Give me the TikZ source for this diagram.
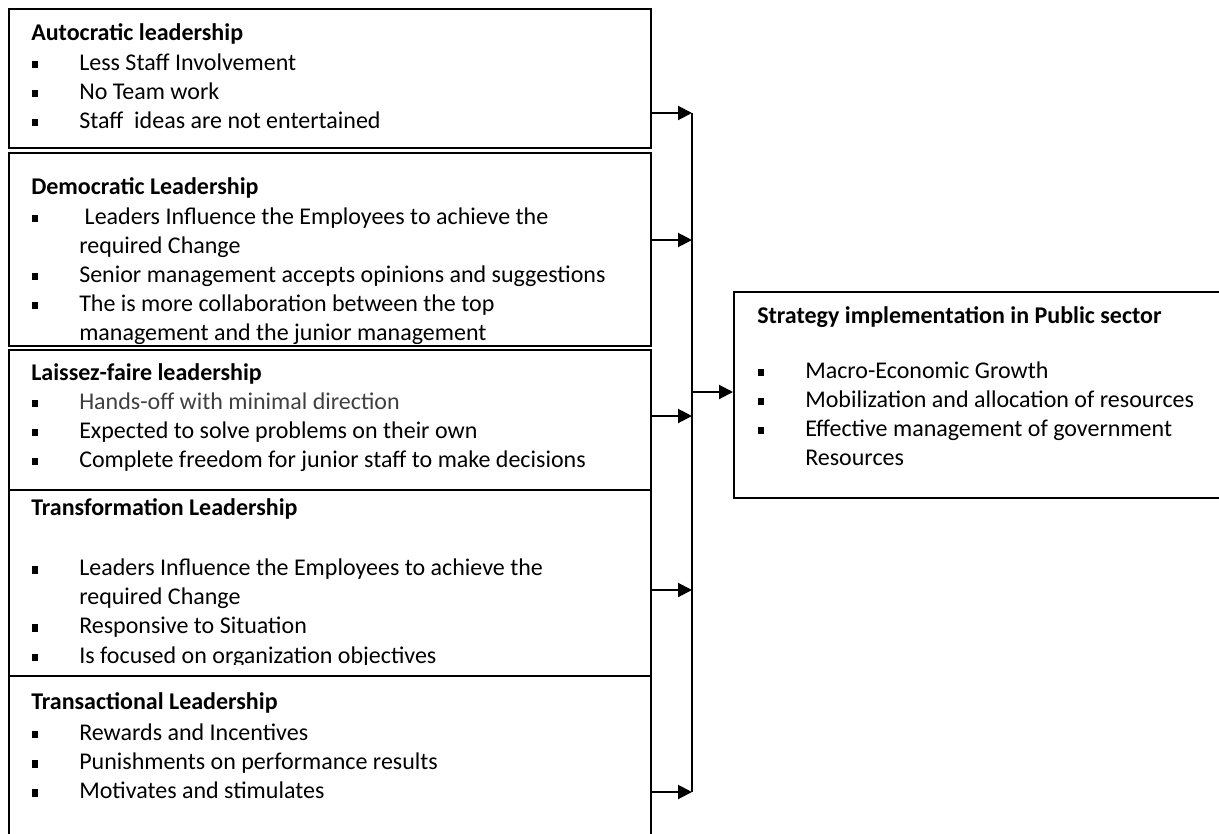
\documentclass[tikz,border=0pt]{standalone}
\usepackage{fontspec}
\setmainfont{Carlito}
\usetikzlibrary{arrows.meta,calc}

% one line of a box: title, bullet item, wrapped continuation, empty line
\newcommand{\ttl}[1]{\hbox{\bfseries #1}}
\newcommand{\itm}[1]{\hbox{\kern0.6pt\rule[1.7pt]{4.4pt}{5.4pt}\kern31pt\relax #1}}
\newcommand{\cnt}[1]{\hbox{\kern36pt\relax #1}}
\newcommand{\gap}[1]{\hbox{}\kern#1}

\begin{document}
\begin{tikzpicture}[x=0.75pt,y=-0.75pt,
    leadbox/.style={draw,line width=1.5pt,fill=white,inner sep=0pt,anchor=north west},
    arr/.style={line width=1.5pt,-{Triangle[length=10.5pt,width=10.5pt]}},
    lines/.style={anchor=base west,inner sep=0pt,font=\fontsize{18}{21.8}\selectfont}]

  \clip (0,0) rectangle (1219,834);

  % left column of leadership styles
  \foreach \nm/\top/\bot in {auto/8/147, demo/152/345, laiss/349/489, trfm/489/675, trsc/675/850}
    \node[leadbox,minimum width=481.5pt,minimum height={(\bot-\top)*0.75pt}] (\nm) at (8,\top) {};

  \begin{scope}
    \clip (auto.north west) rectangle (auto.south east);
    \node[lines] (autotxt) at (31,41) {\vtop{
      \ttl{Autocratic leadership}
      \itm{Less Staff Involvement}
      \itm{No Team work}
      \itm{Staff\ \ ideas are not entertained}}};
  \end{scope}

  \begin{scope}
    \clip (demo.north west) rectangle (650,343);
    \node[lines] (demotxt) at (31,195) {\vtop{
      \ttl{Democratic Leadership}
      \itm{\ Leaders Influence the Employees to achieve the}
      \cnt{required Change}
      \itm{Senior management accepts opinions and suggestions}
      \itm{The is more collaboration between the top}
      \cnt{management and the junior management}}};
  \end{scope}

  \begin{scope}
    \clip (laiss.north west) rectangle (laiss.south east);
    \node[lines] (laisstxt) at (31,380) {\vtop{
      \ttl{Laissez-faire leadership}
      \itm{\color{black!75}Hands-off with minimal direction}
      \itm{Expected to solve problems on their own}
      \itm{Complete freedom for junior staff to make decisions}}};
  \end{scope}

  \begin{scope}
    \clip (trfm.north west) rectangle (650,664);
    \node[lines] (trfmtxt) at (31,515) {\vtop{
      \ttl{Transformation Leadership}
      \gap{2pt}
      \itm{Leaders Influence the Employees to achieve the}
      \cnt{required Change}
      \itm{Responsive to Situation}
      \itm{Is focused on organization objectives}}};
  \end{scope}

  \node[lines] (trsctxt) at (31,709) {\vtop{
    \ttl{Transactional Leadership}\kern2pt
    \itm{Rewards and Incentives}
    \itm{Punishments on performance results}
    \itm{Motivates and stimulates}}};

  % collecting line and arrows
  \foreach \nm/\y [count=\i] in {auto/113, demo/240, laiss/416, trfm/590, trsc/792} {
    \coordinate (b\i) at (692,\y);
    \draw[arr] (\nm.east |- b\i) -- (b\i);
  }
  \draw[line width=1.5pt] (b1) -- (b5);

  % outcome box
  \node[leadbox,minimum width=372.75pt,minimum height=154.5pt] (strat) at (733,291) {};
  \node[lines] (strattxt) at (757,323) {\vtop{
    \ttl{Strategy implementation in Public sector}
    \gap{-2.3pt}
    \itm{Macro-Economic Growth}
    \itm{Mobilization and allocation of resources}
    \itm{Effective management of government}
    \cnt{Resources}}};

  \coordinate (bm) at (692,392);
  \draw[arr] (bm) -- (strat.west |- bm);
\end{tikzpicture}
\end{document}
